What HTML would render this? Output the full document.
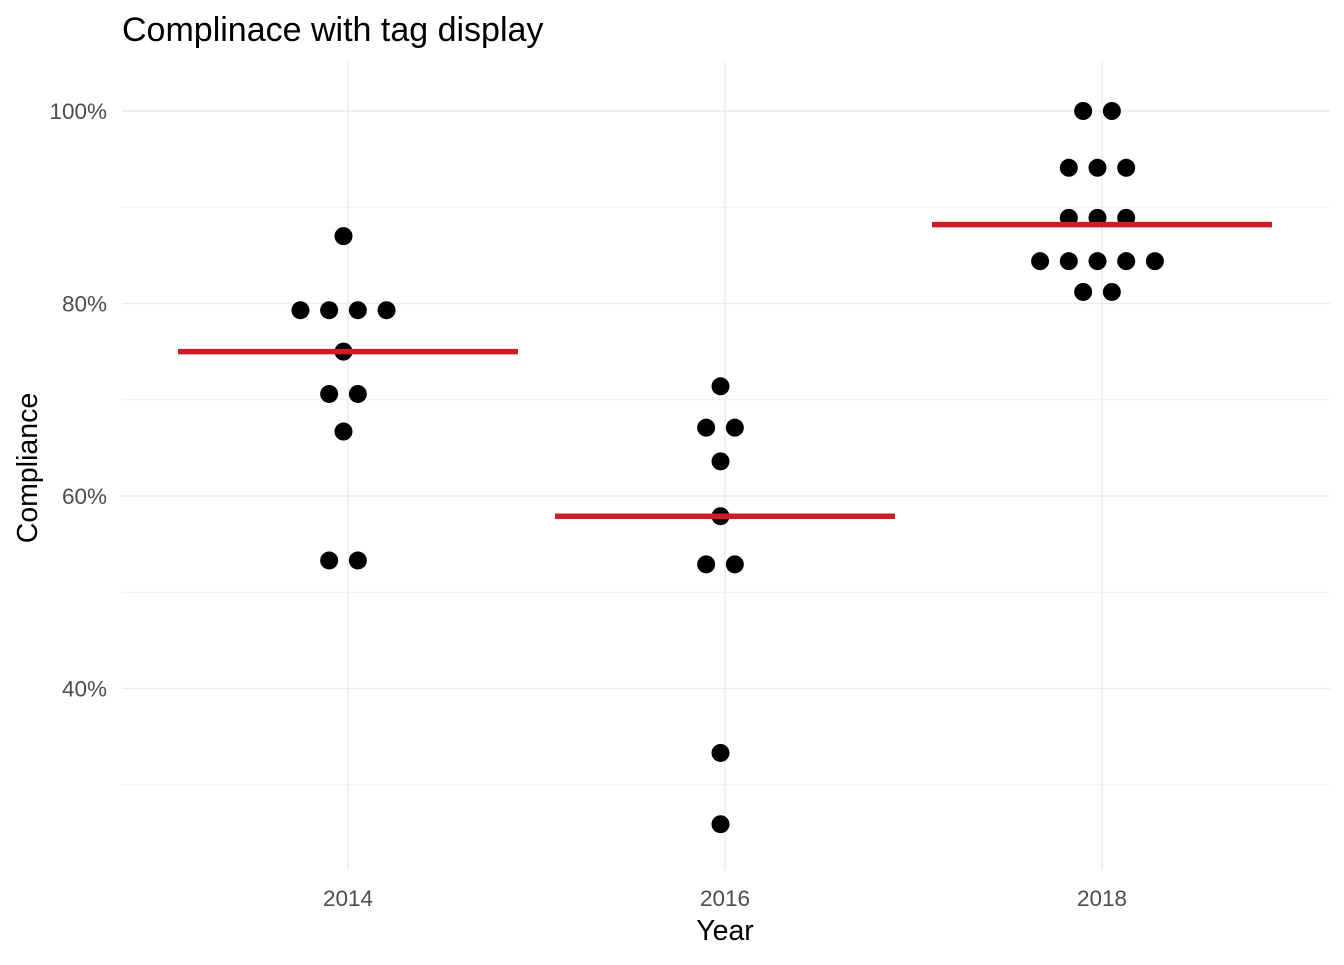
<!DOCTYPE html>
<html><head><meta charset="utf-8"><style>
html,body{margin:0;padding:0;background:#fff;}
svg text{font-family:"Liberation Sans",Arial,sans-serif;}
</style></head><body>
<svg id="chart" width="1344" height="960" xmlns="http://www.w3.org/2000/svg">
<text x="122" y="41" font-size="34" fill="#000">Complinace with tag display</text>
<g id="grid"></g><g id="marks"></g><g id="axes"></g>
<text x="725" y="940" font-size="28.5" text-anchor="middle" fill="#000">Year</text>
<text transform="translate(37,468) rotate(-90)" font-size="28.5" text-anchor="middle" fill="#000">Compliance</text>
</svg>
<script>
const years = [2014, 2016, 2018];
const values2014 = [87.0, 79.3, 79.3, 79.3, 79.3, 75.0, 70.6, 70.6, 66.7, 53.3, 53.3];
const values2016 = [71.4, 67.1, 67.1, 63.6, 57.9, 52.9, 52.9, 33.3, 25.9];
const values2018 = [100, 100, 94.1, 94.1, 94.1, 88.9, 88.9, 88.9, 84.4, 84.4, 84.4, 84.4, 84.4, 81.2, 81.2];
const means = [75.0, 57.9, 88.2];
const yTicks = [40, 60, 80, 100];
const yMinor = [30, 50, 70, 90];
const xTickLabels = ["2014", "2016", "2018"];

const NS = "http://www.w3.org/2000/svg";
const L = 122, R = 1330, T = 62, B = 870;
const xs = y => 348 + (y - 2014) * 188.5;
const ys = v => 303.5 - (v - 80) * 9.625;
function mk(tag, attrs, parent) {
  const e = document.createElementNS(NS, tag);
  for (const k in attrs) e.setAttribute(k, attrs[k]);
  document.getElementById(parent).appendChild(e);
  return e;
}
yMinor.forEach(v => {
  const l = mk("line", {x1: L, x2: R, y1: ys(v), y2: ys(v), stroke: "#ebebeb", "stroke-width": 0.7}, "grid");
  
  
});
yTicks.forEach(v => {
  const l = mk("line", {x1: L, x2: R, y1: ys(v), y2: ys(v), stroke: "#ebebeb", "stroke-width": 1.4}, "grid");
  
  
  const t = mk("text", {x: 107, y: ys(v) + 8, "text-anchor": "end", "font-size": 22.5, fill: "#4d4d4d"}, "axes");
  t.textContent = v + "%";
  
  
});
years.forEach((yr, i) => {
  const l = mk("line", {x1: xs(yr), x2: xs(yr), y1: T, y2: B, stroke: "#ebebeb", "stroke-width": 1.4}, "grid");
  
  
  const t = mk("text", {x: xs(yr), y: 906, "text-anchor": "middle", "font-size": 22.5, fill: "#4d4d4d"}, "axes");
  t.textContent = xTickLabels[i];
  
  
});
const series = [values2014, values2016, values2018];
series.forEach((vals, i) => {
  const groups = {};
  vals.forEach(v => { groups[v] = (groups[v] || 0) + 1; });
  Object.keys(groups).forEach(k => {
    const n = groups[k];
    for (let j = 0; j < n; j++) {
      const cx = xs(years[i]) - 4.5 + (j - (n - 1) / 2) * 28.7;
      const c = mk("circle", {cx: cx, cy: ys(+k), r: 9, fill: "#000"}, "marks");
      
      
    }
  });
});
means.forEach((m, i) => {
  const l = mk("line", {x1: xs(years[i]) - 170, x2: xs(years[i]) + 170, y1: ys(m), y2: ys(m), stroke: "#cc1e24", "stroke-width": 5.5}, "marks");
  
  
});
</script>
</body></html>
